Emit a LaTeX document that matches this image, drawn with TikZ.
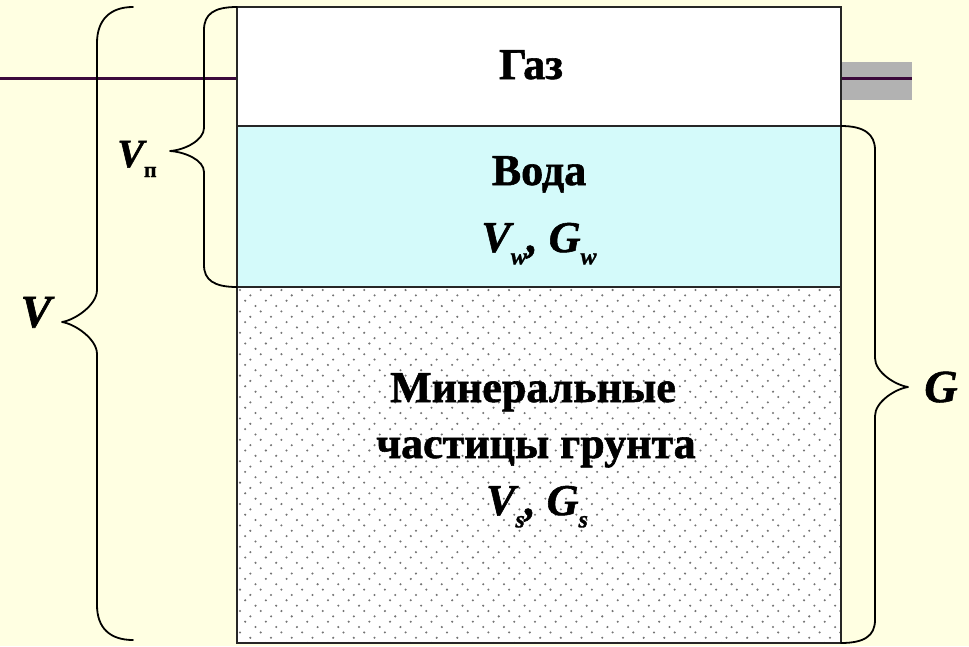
\documentclass[tikz,border=0pt]{standalone}
\usepackage{fontspec}
\setmainfont{Liberation Serif}
\newfontfamily\heavyup[FakeBold=1.3]{Liberation Serif Bold}
\newfontfamily\heavyit[FakeBold=1.3]{Liberation Serif Bold Italic}
\begin{document}
\begin{tikzpicture}[x=1pt,y=-1pt,
  boxtext/.style={font=\fontsize{44}{50}\heavyup, inner sep=0pt, anchor=base},
  sidelabel/.style={font=\fontsize{46}{50}\heavyit, inner sep=0pt, anchor=base},
  bracestyle/.style={draw=black, line width=1.8pt, line join=round, line cap=round},
  layer/.style={draw=black!85, line width=2pt},
  rulecol/.style={draw=rulepurple, line width=3pt}]
\definecolor{bgyellow}{RGB}{255,255,226}
\definecolor{watercyan}{RGB}{212,250,250}
\definecolor{rulepurple}{RGB}{60,10,60}
\definecolor{bargray}{RGB}{178,178,178}
\newcommand{\sbs}[1]{\raisebox{-0.28em}{\fontsize{24}{24}\selectfont #1}}
% background
\fill[bgyellow] (0,0) rectangle (969,646);
\useasboundingbox (0,0) rectangle (969,646);
% title rule
\fill[bargray] (842,62) rectangle (912,100);
\coordinate (ruleL) at (0,78);
\coordinate (ruleA) at (237,78);
\coordinate (ruleB) at (842,78);
\coordinate (ruleR) at (912,78);
\draw[rulecol] (ruleL) -- (ruleA);
\draw[rulecol] (ruleB) -- (ruleR);
% layers
\fill[white] (237,7) rectangle (841,126);
\fill[watercyan] (237,126) rectangle (841,287);
\fill[white] (237,287) rectangle (841,643);
\begin{scope}
\clip (238,288) rectangle (840,642);
\foreach \r in {0,...,66}{
  \pgfmathsetmacro{\yy}{290+\r*5.35}
  \pgfmathsetmacro{\off}{{0,10.35,5.17,15.52}[mod(\r,4)]}
  \foreach \c in {0,...,29}{
    \pgfmathsetmacro{\xx}{240+\off+\c*20.7}
    \fill[black!55] (\xx,\yy) circle (1.15);
  }
}
\end{scope}
\draw[layer] (237,7) rectangle (841,643);
\draw[layer] (237,126) -- (841,126);
\draw[layer] (237,287) -- (841,287);
% texts
\node[boxtext] (gas) at (531,79) {Газ};
\node[boxtext] (water) at (539,185) {Вода};
\node[boxtext] (waterVG) at (539,252) {\heavyit V\sbs{w}, G\sbs{w}};
\node[boxtext] (min1) at (533,402) {Минеральные};
\node[boxtext] (min2) at (536,458) {частицы грунта};
\node[boxtext] (minVG) at (537,515) {\heavyit V\sbs{s}, G\sbs{s}};
% braces
\draw[bracestyle] (133,7) .. controls (110,7) and (97,20) .. (97,43) -- (97,290)
  .. controls (97,305) and (75,320) .. (62,322)
  .. controls (75,324) and (97,339) .. (97,354) -- (97,605)
  .. controls (97,628) and (110,640) .. (133,640);
\draw[bracestyle] (237,7) .. controls (214,7) and (204,14) .. (204,30) -- (204,128)
  .. controls (204,140) and (185,150) .. (170,151)
  .. controls (185,152) and (204,160) .. (204,172) -- (204,265)
  .. controls (204,280) and (214,287) .. (237,287);
\draw[bracestyle] (841,126) .. controls (864,126) and (875,134) .. (875,150) -- (875,358)
  .. controls (875,372) and (895,385) .. (908,387)
  .. controls (895,389) and (875,402) .. (875,416) -- (875,620)
  .. controls (875,636) and (864,643) .. (841,643);
% side labels
\node[sidelabel] (Vlab) at (36,327) {V};
\node[sidelabel, font=\fontsize{40}{44}\heavyit] (Vnlab) at (137,167) {V\raisebox{-0.25em}{\fontsize{22}{22}\heavyup п}};
\node[sidelabel] (Glab) at (941,402) {G};
\end{tikzpicture}
\end{document}
